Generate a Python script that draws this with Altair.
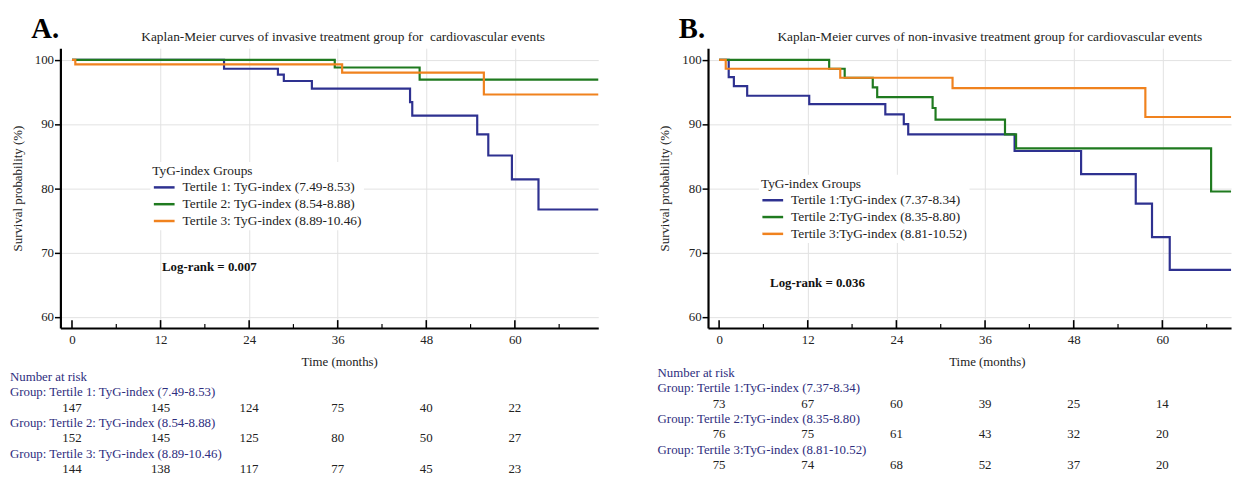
import altair as alt
import pandas as pd

FONT = "Liberation Serif"
TXT = "#222222"
NAVY_TXT = "#2e2e7e"
COLORS = ["#2e3190", "#1f7a1f", "#f0821e"]
GRID = "#e2e2e2"

# ---------------- Panel A (invasive) ----------------
a_title = "Kaplan-Meier curves of invasive treatment group for\u00a0 cardiovascular events"
a_groups = ["Tertile 1: TyG-index (7.49-8.53)",
            "Tertile 2: TyG-index (8.54-8.88)",
            "Tertile 3: TyG-index (8.89-10.46)"]
a_risk_labels = ["Group: Tertile 1: TyG-index (7.49-8.53)",
                 "Group: Tertile 2: TyG-index (8.54-8.88)",
                 "Group: Tertile 3: TyG-index (8.89-10.46)"]
a_t1_time = [0, 20.6, 27.9, 28.7, 32.5, 45.8, 46.1, 54.9, 56.4, 59.6, 63.2, 71.3]
a_t1_surv = [100, 98.6, 97.7, 96.7, 95.5, 93.4, 91.3, 88.4, 85.1, 81.4, 76.7, 76.7]
a_t2_time = [0, 35.6, 47.1, 71.3]
a_t2_surv = [100, 98.8, 96.9, 96.9]
a_t3_time = [0, 0.45, 36.6, 55.8, 71.3]
a_t3_surv = [100, 99.3, 98.0, 94.6, 94.6]
a_risk_t1 = [147, 145, 124, 75, 40, 22]
a_risk_t2 = [152, 145, 125, 80, 50, 27]
a_risk_t3 = [144, 138, 117, 77, 45, 23]
a_logrank = "Log-rank = 0.007"

# ---------------- Panel B (non-invasive) ----------------
b_title = "Kaplan-Meier curves of non-invasive treatment group for cardiovascular events"
b_groups = ["Tertile 1:TyG-index (7.37-8.34)",
            "Tertile 2:TyG-index (8.35-8.80)",
            "Tertile 3:TyG-index (8.81-10.52)"]
b_risk_labels = ["Group: Tertile 1:TyG-index (7.37-8.34)",
                 "Group: Tertile 2:TyG-index (8.35-8.80)",
                 "Group: Tertile 3:TyG-index (8.81-10.52)"]
b_t1_time = [0, 1.3, 2.0, 3.8, 12.2, 22.5, 25.0, 25.6, 40.0, 49.0, 56.4, 58.6, 61.0, 69.3]
b_t1_surv = [100, 97.3, 95.9, 94.4, 93.1, 91.5, 90.0, 88.4, 85.8, 82.2, 77.6, 72.4, 67.3, 67.3]
b_t2_time = [0, 14.9, 17.0, 20.8, 21.4, 28.9, 29.3, 38.7, 40.2, 66.6, 69.3]
b_t2_surv = [100, 98.6, 97.2, 95.7, 94.2, 92.5, 90.7, 88.4, 86.2, 79.5, 79.5]
b_t3_time = [0, 0.9, 16.4, 31.6, 57.7, 69.3]
b_t3_surv = [100, 98.6, 97.2, 95.6, 91.1, 91.1]
b_risk_t1 = [73, 67, 60, 39, 25, 14]
b_risk_t2 = [76, 75, 61, 43, 32, 20]
b_risk_t3 = [75, 74, 68, 52, 37, 20]
b_logrank = "Log-rank = 0.036"

risk_months = [0, 12, 24, 36, 48, 60]
major_ticks = [0, 12, 24, 36, 48, 60]
minor_ticks = [6, 18, 30, 42, 54, 66]
y_ticks = [60, 70, 80, 90, 100]

H = 283
Y_DOMAIN = [58.25, 101.8]


def panel(letter, title, title_x, groups, curves, risk_labels, risks, logrank,
          logrank_pos, x_domain, width, row_range, legend_xy):
    xs = alt.Scale(domain=x_domain, nice=False, zero=False)
    ys = alt.Scale(domain=Y_DOMAIN, nice=False, zero=False)
    rs = alt.Scale(domain=[0, 6], range=row_range, nice=False, zero=False)

    rows = []
    for g, (t, s) in zip(groups, curves):
        for ti, si in zip(t, s):
            rows.append({"month": ti, "surv": si, "group": g})
    df = pd.DataFrame(rows)

    lines = alt.Chart(df).mark_line(interpolate="step-after", strokeWidth=2.2).encode(
        x=alt.X("month:Q", scale=xs, axis=alt.Axis(
            values=major_ticks, title="Time (months)", ticks=False,
            labelPadding=6, titlePadding=9, titleX=282,
            domainColor="black", domainWidth=2.2,
            gridColor=GRID,
            gridOpacity={"condition": {"test": "datum.value === 0", "value": 0}, "value": 1},
            labelFont=FONT, labelFontSize=13, labelColor=TXT,
            titleFont=FONT, titleFontSize=13, titleFontWeight="normal", titleColor=TXT)),
        y=alt.Y("surv:Q", scale=ys, axis=alt.Axis(
            values=y_ticks, title="Survival probability (%)",
            tickSize=6, tickWidth=1.5, tickColor="black", labelPadding=1,
            titlePadding=10, domainColor="black", domainWidth=2.2,
            gridColor=GRID,
            labelFont=FONT, labelFontSize=13, labelColor=TXT,
            titleFont=FONT, titleFontSize=13, titleFontWeight="normal", titleColor=TXT)),
        color=alt.Color("group:N", sort=groups,
                        scale=alt.Scale(domain=groups, range=COLORS),
                        legend=alt.Legend(
                            orient="none", legendX=legend_xy[0], legendY=legend_xy[1],
                            title="TyG-index Groups", titleFont=FONT, titleFontSize=13.5,
                            titleFontWeight="normal", titleColor=TXT, titlePadding=3.5,
                            labelFont=FONT, labelFontSize=13.5, labelColor=TXT,
                            symbolType="M-1,0H3", symbolSize=110, symbolStrokeWidth=2.5,
                            labelOffset=17, rowPadding=2, padding=2, fillColor="white",
                            direction="vertical", labelLimit=400)),
    )

    major = alt.Chart(pd.DataFrame({"month": major_ticks})).mark_rule(
        color="black", strokeWidth=1.6).encode(
        x=alt.X("month:Q", scale=xs, axis=None),
        y=alt.value(H), y2=alt.value(H - 8))
    minor = alt.Chart(pd.DataFrame({"month": minor_ticks})).mark_rule(
        color="black", strokeWidth=1.2).encode(
        x=alt.X("month:Q", scale=xs, axis=None),
        y=alt.value(H), y2=alt.value(H - 4))

    lr = alt.Chart(pd.DataFrame({"month": [logrank_pos[0]], "surv": [logrank_pos[1]],
                                 "t": [logrank]})).mark_text(
        align="left", baseline="middle", font=FONT, fontSize=13, fontWeight="bold",
        color="#111111").encode(
        x=alt.X("month:Q", scale=xs, axis=None),
        y=alt.Y("surv:Q", scale=ys, axis=None), text="t:N")

    letter_txt = alt.Chart(pd.DataFrame({"t": [letter]})).mark_text(
        align="left", baseline="alphabetic", font=FONT, fontSize=29, fontWeight="bold",
        color="#000000").encode(x=alt.value(-29.5), y=alt.value(-10.5), text="t:N")

    title_txt = alt.Chart(pd.DataFrame({"t": [title]})).mark_text(
        align="center", baseline="alphabetic", font=FONT, fontSize=13.5,
        color=TXT).encode(x=alt.value(title_x), y=alt.value(-7), text="t:N")

    lab_df = pd.DataFrame({"row": [0, 1, 3, 5],
                           "t": ["Number at risk"] + risk_labels})
    labels = alt.Chart(lab_df).mark_text(
        align="left", baseline="middle", font=FONT, fontSize=13, color=NAVY_TXT).encode(
        x=alt.value(-51), y=alt.Y("row:Q", scale=rs, axis=None), text="t:N")

    num_rows = []
    for r, vals in zip([2, 4, 6], risks):
        for m, v in zip(risk_months, vals):
            num_rows.append({"row": r, "month": m, "n": str(v)})
    nums = alt.Chart(pd.DataFrame(num_rows)).mark_text(
        align="center", baseline="middle", font=FONT, fontSize=13, color=TXT).encode(
        x=alt.X("month:Q", scale=xs, axis=None),
        y=alt.Y("row:Q", scale=rs, axis=None), text="n:N")

    return alt.layer(lines, major, minor, lr, letter_txt, title_txt, labels,
                     nums).resolve_scale(x="independent", y="independent").properties(
        width=width, height=H)


pA = panel("A.", a_title, 286, a_groups,
           [(a_t1_time, a_t1_surv), (a_t2_time, a_t2_surv), (a_t3_time, a_t3_surv)],
           a_risk_labels, [a_risk_t1, a_risk_t2, a_risk_t3], a_logrank, (12.2, 67.8),
           [-1.57, 71.3], 544, [332.5, 425.5], (91, 115))
pB = panel("B.", b_title, 285, b_groups,
           [(b_t1_time, b_t1_surv), (b_t2_time, b_t2_surv), (b_t3_time, b_t3_surv)],
           b_risk_labels, [b_risk_t1, b_risk_t2, b_risk_t3], b_logrank, (6.9, 65.25),
           [-1.5, 69.3], 529, [328.5, 421.5], (51.5, 128))

chart = alt.hconcat(pA, pB, spacing=55).resolve_scale(
    color="independent", x="independent", y="independent").resolve_legend(
    color="independent").properties(
    padding={"left": 2, "top": 4, "right": 0, "bottom": 0},
    background="white").configure_view(stroke=None)

chart.save("out.html", embed_options={"renderer": "svg", "actions": False})
